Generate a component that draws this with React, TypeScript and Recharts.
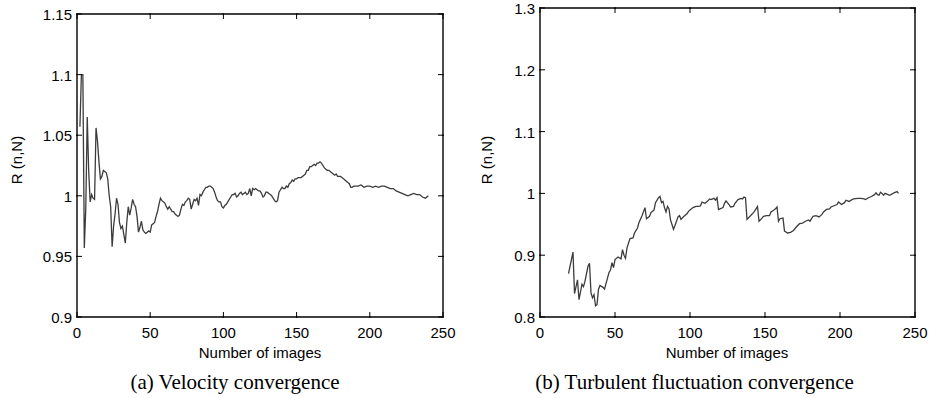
import React from 'react';
import { LineChart, Line, XAxis, YAxis } from 'recharts';

// (a) velocity convergence
const velN = [
  2, 3, 4, 5, 6, 7, 8, 9, 10, 11, 12, 13, 14, 15, 16, 17, 18, 19, 20, 21, 22, 23, 24, 25, 26, 27, 28, 29, 30,
  31, 32, 33, 34, 35, 36, 37, 38, 39, 40, 41, 42, 43, 44, 45, 46, 47, 48, 49, 50, 51, 52, 53, 54, 55, 56, 57, 58,
  59, 60, 61, 62, 63, 64, 65, 66, 67, 68, 69, 70, 71, 72, 73, 74, 75, 76, 77, 78, 79, 80, 81, 82, 83, 84, 85, 86,
  87, 88, 89, 90, 91, 92, 93, 94, 95, 96, 97, 98, 99, 100, 101, 102, 103, 104, 105, 106, 107, 108, 109, 110, 111,
  112, 113, 114, 115, 116, 117, 118, 119, 120, 121, 122, 123, 124, 125, 126, 127, 128, 129, 130, 131, 132, 133,
  134, 135, 136, 137, 138, 139, 140, 141, 142, 143, 144, 145, 146, 147, 148, 149, 150, 151, 152, 153, 154, 155,
  156, 157, 158, 159, 160, 161, 162, 163, 164, 165, 166, 167, 168, 169, 170, 171, 172, 173, 174, 175, 176, 177,
  178, 179, 180, 181, 182, 183, 184, 185, 186, 187, 188, 189, 190, 192, 194, 196, 198, 200, 202, 204, 206, 208,
  210, 212, 214, 216, 218, 220, 222, 224, 226, 228, 230, 232, 234, 236, 238, 240,
];
const velR = [
  1.057, 1.1, 1.1, 0.957, 0.99, 1.065, 1.02, 0.995, 1.001, 0.998, 0.997, 1.056, 1.045, 1.028, 1.014, 1.016, 1.021,
  1.02, 1.019, 1.014, 1.0, 0.991, 0.958, 0.975, 0.985, 0.998, 0.993, 0.978, 0.973, 0.975, 0.968, 0.961, 0.978,
  0.991, 0.984, 0.99, 0.997, 0.993, 0.991, 0.983, 0.97, 0.974, 0.979, 0.972, 0.97, 0.969, 0.97, 0.971, 0.97, 0.976,
  0.977, 0.978, 0.983, 0.987, 0.993, 0.998, 0.996, 0.995, 0.994, 0.991, 0.989, 0.991, 0.989, 0.987, 0.987, 0.985,
  0.984, 0.983, 0.984, 0.989, 0.993, 0.992, 0.995, 0.996, 0.998, 0.997, 0.989, 0.993, 0.997, 0.996, 0.998, 0.992,
  1.001, 1.0, 1.003, 1.005, 1.007, 1.007, 1.008, 1.008, 1.007, 1.006, 1.003, 0.999, 0.996, 0.995, 0.995, 0.991,
  0.99, 0.992, 0.993, 0.995, 0.997, 0.999, 1.001, 1.001, 1.002, 0.999, 1.0, 1.002, 1.003, 1.001, 1.002, 1.003,
  1.001, 1.002, 1.006, 1.0, 1.006, 1.005, 1.006, 1.005, 1.004, 1.004, 1.002, 0.999, 1.0, 1.003, 1.003, 1.002,
  1.001, 1.0, 0.998, 0.996, 0.995, 0.996, 1.003, 1.005, 1.007, 1.006, 1.006, 1.008, 1.007, 1.01, 1.011, 1.013,
  1.012, 1.014, 1.014, 1.015, 1.015, 1.015, 1.016, 1.017, 1.018, 1.021, 1.021, 1.024, 1.024, 1.025, 1.026, 1.025,
  1.027, 1.027, 1.028, 1.027, 1.025, 1.023, 1.022, 1.021, 1.021, 1.02, 1.019, 1.018, 1.017, 1.018, 1.016, 1.016,
  1.016, 1.015, 1.014, 1.013, 1.012, 1.011, 1.01, 1.007, 1.007, 1.008, 1.008, 1.008, 1.009, 1.007, 1.008, 1.008,
  1.007, 1.008, 1.007, 1.008, 1.008, 1.007, 1.006, 1.006, 1.004, 1.003, 1.002, 1.001, 1.0, 1.001, 1.002, 1.001,
  1.001, 0.999, 0.998, 1.0,
];

// (b) turbulent fluctuation convergence
const turbN = [
  19, 22, 23, 25, 26, 28, 29, 30, 32, 33, 34, 35, 36, 37, 38, 39, 40, 42, 43, 45, 46, 47, 48, 49, 50, 52, 54, 55,
  56, 57, 58, 60, 62, 63, 65, 66, 68, 70, 71, 73, 74, 76, 77, 79, 80, 81, 82, 83, 84, 85, 86, 87, 89, 90, 92, 93,
  94, 96, 98, 99, 100, 102, 104, 106, 107, 108, 110, 112, 113, 114, 116, 117, 118, 119, 120, 122, 123, 124, 126,
  127, 129, 130, 132, 134, 135, 136, 137, 138, 140, 142, 143, 145, 146, 148, 149, 151, 153, 154, 156, 157, 158,
  159, 160, 162, 163, 165, 167, 169, 171, 173, 175, 177, 179, 180, 182, 184, 186, 188, 189, 191, 193, 194, 196,
  198, 199, 201, 203, 204, 206, 208, 209, 212, 214, 216, 217, 219, 221, 223, 224, 225, 226, 227, 228, 229, 230,
  232, 233, 234, 236, 238, 239,
];
const turbR = [
  0.87, 0.905, 0.838, 0.86, 0.828, 0.853, 0.849, 0.858, 0.882, 0.887, 0.839, 0.831, 0.836, 0.818, 0.82, 0.845,
  0.851, 0.848, 0.845, 0.863, 0.872, 0.876, 0.888, 0.88, 0.893, 0.897, 0.894, 0.909, 0.9, 0.895, 0.912, 0.927,
  0.928, 0.936, 0.944, 0.953, 0.964, 0.977, 0.959, 0.963, 0.969, 0.973, 0.985, 0.993, 0.995, 0.985, 0.987, 0.977,
  0.97, 0.979, 0.975, 0.957, 0.942, 0.948, 0.962, 0.964, 0.958, 0.963, 0.967, 0.971, 0.973, 0.977, 0.979, 0.979,
  0.98, 0.986, 0.984, 0.988, 0.991, 0.99, 0.992, 0.989, 0.993, 0.974, 0.975, 0.977, 0.984, 0.988, 0.982, 0.978,
  0.979, 0.984, 0.99, 0.992, 0.991, 0.994, 0.993, 0.958, 0.963, 0.968, 0.971, 0.979, 0.955, 0.96, 0.963, 0.964,
  0.964, 0.97, 0.973, 0.975, 0.978, 0.955, 0.959, 0.96, 0.939, 0.936, 0.937, 0.94, 0.946, 0.951, 0.952, 0.955,
  0.957, 0.955, 0.963, 0.964, 0.962, 0.966, 0.97, 0.974, 0.975, 0.978, 0.98, 0.982, 0.986, 0.982, 0.985, 0.989,
  0.987, 0.99, 0.991, 0.992, 0.992, 0.991, 0.99, 0.993, 0.995, 0.998, 1.001, 0.998, 0.997, 1.002, 1.0, 0.997, 1.0,
  0.998, 0.997, 0.998, 1.001, 1.003, 1.0,
];

const xTicks = [0, 50, 100, 150, 200, 250];
const velTicks = [0.9, 0.95, 1, 1.05, 1.1, 1.15];
const turbTicks = [0.8, 0.9, 1, 1.1, 1.2, 1.3];

const velData = velN.map((n, i) => ({ n, r: velR[i] }));
const turbData = turbN.map((n, i) => ({ n, r: turbR[i] }));

const sans = '"Liberation Sans", Arial, sans-serif';
const serif = '"Liberation Serif", "Times New Roman", serif';
const TICK = 5;
const BOTTOM = 317;
const FRAME = { stroke: '#000', strokeWidth: 1.4, strokeLinecap: 'square' as const };

type PanelProps = {
  data: { n: number; r: number }[];
  yTicks: number[];
  left: number;
  width: number;
  top: number;
  plotLeft: number;
  plotRight: number;
  caption: string;
  labelX: number;
  xLabelX: number;
};

const Panel = ({ data, yTicks, left, width, top, plotLeft, plotRight, caption, labelX, xLabelX }: PanelProps) => {
  const yDomain = [yTicks[0], yTicks[yTicks.length - 1]];
  const xStepPx = (plotRight - plotLeft) / (xTicks.length - 1);
  const yStepPx = (BOTTOM - top) / (yTicks.length - 1);

  // inward MATLAB-style ticks on both sides; each tick also draws its piece of the box
  const BottomTick = ({ x, y, payload }: any) => {
    const last = payload.value === xTicks[xTicks.length - 1];
    return (
      <g>
        {!last && <line x1={x} x2={x + xStepPx} y1={y} y2={y} {...FRAME} />}
        {!last && <line x1={x} x2={x + xStepPx} y1={top} y2={top} {...FRAME} />}
        <line x1={x} x2={x} y1={y} y2={y - TICK} stroke="#000" />
        <line x1={x} x2={x} y1={top} y2={top + TICK} stroke="#000" />
        <text x={x} y={y + 21} textAnchor="middle" fontSize={15} fontFamily={sans} fill="#000">
          {payload.value}
        </text>
      </g>
    );
  };
  const LeftTick = ({ x, y, payload }: any) => {
    const last = payload.value === yTicks[yTicks.length - 1];
    return (
      <g>
        {!last && <line x1={x} x2={x} y1={y} y2={y - yStepPx} {...FRAME} />}
        {!last && <line x1={plotRight} x2={plotRight} y1={y} y2={y - yStepPx} {...FRAME} />}
        <line x1={x} x2={x + TICK} y1={y} y2={y} stroke="#000" />
        <line x1={plotRight} x2={plotRight - TICK} y1={y} y2={y} stroke="#000" />
        <text x={x - 5} y={y + 6} textAnchor="end" fontSize={15} fontFamily={sans} fill="#000">
          {payload.value}
        </text>
      </g>
    );
  };

  return (
    <div style={{ position: 'absolute', left, top: 0, width, height: 398 }}>
      <LineChart
        width={width}
        height={398}
        data={data}
        margin={{ top, right: width - plotRight, bottom: 0, left: 0 }}
      >
        <XAxis
          dataKey="n"
          type="number"
          domain={[0, 250]}
          ticks={xTicks}
          height={398 - BOTTOM}
          axisLine={false}
          tickLine={false}
          tickSize={0}
          tickMargin={0}
          tick={<BottomTick />}
          interval={0}
        />
        <YAxis
          type="number"
          domain={yDomain}
          ticks={yTicks}
          width={plotLeft}
          axisLine={false}
          tickLine={false}
          tickSize={0}
          tickMargin={0}
          tick={<LeftTick />}
          interval={0}
        />
        <Line
          type="linear"
          dataKey="r"
          stroke="#3c3c3c"
          strokeWidth={1.3}
          dot={false}
          isAnimationActive={false}
        />
      </LineChart>
      <div
        style={{
          position: 'absolute',
          left: labelX - 60,
          top: 160 - 10,
          width: 120,
          height: 20,
          lineHeight: '20px',
          textAlign: 'center',
          transform: 'rotate(-90deg)',
          fontFamily: sans,
          fontSize: 15,
        }}
      >
        R (n,N)
      </div>
      <div
        style={{
          position: 'absolute',
          left: xLabelX - 100,
          top: 343,
          width: 200,
          lineHeight: '20px',
          textAlign: 'center',
          fontFamily: sans,
          fontSize: 15,
        }}
      >
        Number of images
      </div>
      <div
        style={{
          position: 'absolute',
          left: 0,
          width,
          top: 370,
          lineHeight: '24px',
          textAlign: 'center',
          fontFamily: serif,
          fontSize: 21,
        }}
      >
        {caption}
      </div>
    </div>
  );
};

export default function App() {
  return (
    <div style={{ position: 'absolute', left: 0, top: 0, width: 929, height: 398, background: '#fff' }}>
      <Panel
        data={velData}
        yTicks={velTicks}
        left={0}
        width={470}
        top={14}
        plotLeft={77}
        plotRight={443}
        caption="(a) Velocity convergence"
        labelX={17}
        xLabelX={260}
      />
      <Panel
        data={turbData}
        yTicks={turbTicks}
        left={460}
        width={469}
        top={8}
        plotLeft={80}
        plotRight={455}
        caption="(b) Turbulent fluctuation convergence"
        labelX={27}
        xLabelX={267}
      />
    </div>
  );
}
